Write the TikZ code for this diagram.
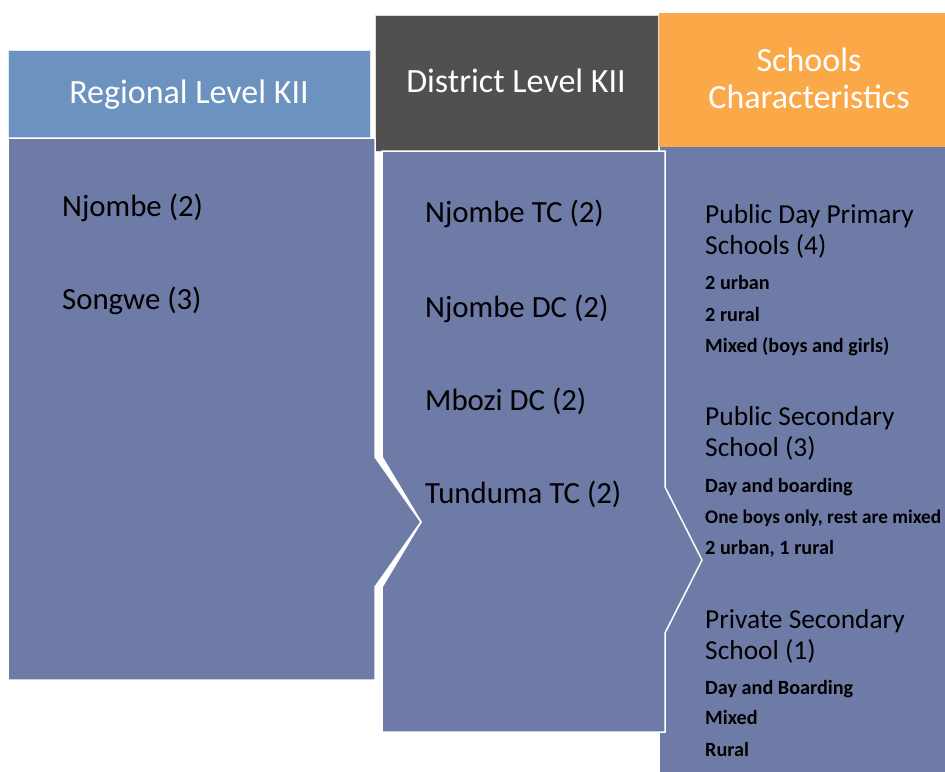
\documentclass[tikz,border=0pt]{standalone}
\usepackage{fontspec}
\setmainfont{Carlito}
\definecolor{regblue}{HTML}{6C92BF}
\definecolor{slate}{HTML}{6F7BA7}
\definecolor{darkhdr}{HTML}{505050}
\definecolor{orangehdr}{HTML}{FBA848}
\tikzset{
  hdrtxt/.style={text=white, font=\fontsize{34}{37}\selectfont, inner sep=0pt, anchor=base, align=center},
  bigtxt/.style={text=black, font=\fontsize{30.8}{34}\selectfont, inner sep=0pt, anchor=base west},
  midtxt/.style={text=black, font=\fontsize{27.4}{30}\selectfont, inner sep=0pt, anchor=base west},
  smalltxt/.style={text=black, font=\bfseries\fontsize{20.2}{22}\selectfont, inner sep=0pt, anchor=base west},
  bodyshape/.style={fill=slate, draw=white, line width=1.5pt, line join=miter},
}
\begin{document}
\begin{tikzpicture}[x=1pt, y=-1pt]
\useasboundingbox (0,0) rectangle (945,771);
\clip (0,0) rectangle (945,771);
\fill[white] (0,0) rectangle (945,771);
% right column body and header
\path[fill=slate] (660,147) rectangle (950,780);
\path[fill=orangehdr] (659,13) rectangle (950,147);
% middle header
\path[fill=darkhdr, draw=white!80!darkhdr, line width=0.6pt] (375,15) rectangle (658,151);
% left header
\path[fill=regblue, draw=white!80!regblue, line width=0.6pt] (8,50) rectangle (370,138);
% middle body (chevron with notch and point)
\path[bodyshape] (382,151) -- (665,151) -- (665,487) -- (702,560) -- (665,633) -- (665,732) -- (382,732) -- (382,587) -- (421,522) -- (382,457) -- cycle;
% left body with point
\path[bodyshape] (8,138) -- (375,138) -- (375,457) -- (421,522) -- (375,587) -- (375,680) -- (8,680) -- cycle;
% headers text
\node[hdrtxt] (hreg) at (189,103) {Regional Level KII};
\node[hdrtxt] (hdist) at (516,92) {District Level KII};
\node[hdrtxt] (hsch1) at (809,71) {Schools};
\node[hdrtxt] (hsch2) at (809,108) {Characteristics};
% left texts
\node[bigtxt] (l1) at (62,216) {Njombe (2)};
\node[bigtxt] (l2) at (62,309) {Songwe (3)};
% middle texts
\node[bigtxt] (m1) at (425,222) {Njombe TC (2)};
\node[bigtxt] (m2) at (425,317) {Njombe DC (2)};
\node[bigtxt] (m3) at (425,410) {Mbozi DC (2)};
\node[bigtxt] (m4) at (425,503) {Tunduma TC (2)};
% right texts
\node[midtxt] (r1) at (705,223) {Public Day Primary};
\node[midtxt] (r2) at (705,254) {Schools (4)};
\node[smalltxt] (r3) at (705,289) {2 urban};
\node[smalltxt] (r4) at (705,321) {2 rural};
\node[smalltxt] (r5) at (705,352) {Mixed (boys and girls)};
\node[midtxt] (r6) at (705,425) {Public Secondary};
\node[midtxt] (r7) at (705,456) {School (3)};
\node[smalltxt] (r8) at (705,492) {Day and boarding};
\node[smalltxt, font=\bfseries\fontsize{19.3}{22}\selectfont] (r9) at (705,523) {One boys only, rest are mixed};
\node[smalltxt] (r10) at (705,554) {2 urban, 1 rural};
\node[midtxt] (r11) at (705,628) {Private Secondary};
\node[midtxt] (r12) at (705,659) {School (1)};
\node[smalltxt] (r13) at (705,694) {Day and Boarding};
\node[smalltxt] (r14) at (705,724) {Mixed};
\node[smalltxt] (r15) at (705,756) {Rural};
\end{tikzpicture}
\end{document}
